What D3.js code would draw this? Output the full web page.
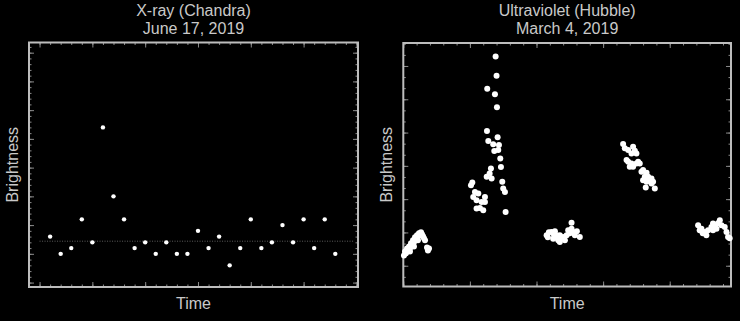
<!DOCTYPE html>
<html><head><meta charset="utf-8">
<script src="https://cdn.jsdelivr.net/npm/d3@7"></script>
<style>html,body{margin:0;background:#000;} svg{display:block;background:#000}</style>
</head><body><svg id="c" width="740" height="321"></svg>
<script>
// ---- X-ray (Chandra) light curve: time bin vs. counts ----
const xrayBin    = [1,2,3,4,5,6,7,8,9,10,11,12,13,14,15,16,17,18,19,20,21,22,23,24,25,26,27,28];
const xrayCounts = [8,5,6,11,7,27,15,11,6,7,5,7,5,5,9,6,8,3,6,11,6,7,10,7,11,6,11,5];
const xrayQuiescent = 7.2;           // dotted reference level
const xrayLineSpan = [0, 29.7];      // time extent of the dotted level

// ---- Ultraviolet (Hubble) light curve: time (tick units) vs. brightness ----
const uvTime = [
  0.05,0.13,0.2,0.28,0.35,0.43,0.5,0.58,0.65,0.73,0.8,0.88,0.95,1.03,1.1,1.18,1.25,1.33,1.4,1.48,1.55,1.63,1.78,1.93,1.85,0.5,0.8,1.1,
  6.93,7.0,6.3,6.88,7.03,6.28,7.08,6.38,6.75,7.18,6.83,7.13,7.28,6.58,7.33,6.48,6.26,7.43,5.18,5.08,7.5,7.63,5.38,5.63,5.25,6.13,5.5,5.88,6.13,5.75,5.5,6.0,7.68,6.63,
  10.76,10.93,11.13,11.25,11.38,11.51,11.63,11.75,11.75,11.88,12.0,12.13,12.26,12.38,12.5,12.63,12.63,12.75,12.88,13.03,13.25,10.85,11.3,
  16.5,16.63,16.88,17.25,17.38,17.5,17.13,16.76,16.88,17.13,17.0,17.25,17.5,17.63,17.75,17.88,18.0,18.26,18.13,18.38,18.5,18.63,18.63,18.26,18.2,18.88,18.75,18.0,
  22.13,22.25,22.38,22.63,22.75,22.88,23.13,23.25,23.25,23.38,23.51,23.76,23.88,24.13,24.26,24.38,24.5,22.48,23.63
];
const uvFlux = [
  0.93,1.29,1.11,1.56,1.38,1.74,1.56,2.02,1.84,2.29,2.11,2.56,2.38,2.74,2.65,2.92,2.74,3.01,2.83,2.65,2.47,2.29,1.65,1.56,1.38,1.29,1.74,2.29,
  18.86,17.11,15.94,15.46,14.28,12.14,11.57,11.24,10.94,10.88,10.33,10.42,9.67,8.77,8.89,8.32,8.01,7.56,7.5,7.26,6.96,6.65,6.65,6.51,6.2,6.2,5.9,5.75,5.75,5.21,5.15,5.0,4.85,7.87,
  2.74,3.01,3.04,2.44,3.1,2.74,2.29,2.74,2.13,2.47,2.59,2.29,2.74,3.19,2.92,3.87,3.34,3.04,2.74,3.1,2.59,2.56,2.83,
  10.97,10.58,10.42,10.72,10.36,10.12,10.12,9.52,9.37,9.22,8.91,8.91,9.22,9.37,9.22,8.46,8.62,8.37,8.01,8.01,7.71,7.86,7.41,7.56,7.05,6.96,7.56,7.71,
  3.64,3.19,3.34,3.04,2.74,3.19,3.49,3.8,3.19,3.64,3.34,4.1,3.64,3.49,3.04,2.59,2.47,2.92,3.82
];

const panelTitles = ["X-ray (Chandra)", "Ultraviolet (Hubble)"];
const panelDates  = ["June 17, 2019", "March 4, 2019"];
const xLabel = "Time";
const yLabel = "Brightness";

const svg = d3.select("#c");
const textColor = "#c9c9c9";
const font = "'Liberation Sans', Arial, Helvetica, sans-serif";

function panel(cfg) {
  const x = d3.scaleLinear().domain(cfg.xDomain).range([cfg.left, cfg.right]);
  const y = d3.scaleLinear().domain(cfg.yDomain).range([cfg.bottom, cfg.top]);
  const g = svg.append("g");

  [{vals: cfg.xMinor, len: 2.5}, {vals: cfg.xMajor, len: 5}].forEach(t => {
    g.append("g").attr("transform", `translate(0,${cfg.bottom})`)
      .call(d3.axisBottom(x).tickValues(t.vals).tickSize(-t.len).tickFormat(""));
    g.append("g").attr("transform", `translate(0,${cfg.top})`)
      .call(d3.axisTop(x).tickValues(t.vals).tickSize(-t.len).tickFormat(""));
  });
  [{vals: cfg.yMinor, len: 2.5}, {vals: cfg.yMajor, len: 5}].forEach(t => {
    g.append("g").attr("transform", `translate(${cfg.left},0)`)
      .call(d3.axisLeft(y).tickValues(t.vals).tickSize(-t.len).tickFormat(""));
    g.append("g").attr("transform", `translate(${cfg.right},0)`)
      .call(d3.axisRight(y).tickValues(t.vals).tickSize(-t.len).tickFormat(""));
  });
  g.selectAll(".domain").remove();
  g.selectAll(".tick line").attr("stroke", "#8a8a8a").attr("stroke-width", 1);

  g.append("rect")
    .attr("x", cfg.left).attr("y", cfg.top)
    .attr("width", cfg.right - cfg.left).attr("height", cfg.bottom - cfg.top)
    .attr("fill", "none").attr("stroke", "#bdbdbd").attr("stroke-width", 2);

  const cx = (cfg.left + cfg.right) / 2;
  const txt = (x0, y0, s) => g.append("text").attr("x", x0).attr("y", y0)
    .attr("text-anchor", "middle").attr("fill", textColor)
    .attr("font-family", font).attr("font-size", 16).text(s);
  txt(cx, 15.5, cfg.title);
  txt(cx, 34, cfg.date);
  txt(cx, 309, xLabel);
  g.append("text")
    .attr("transform", `translate(${cfg.left - 11},${(cfg.top + cfg.bottom) / 2}) rotate(-90)`)
    .attr("text-anchor", "middle")
    .attr("fill", textColor).attr("font-family", font).attr("font-size", 16).text(yLabel);

  return {g, x, y};
}

// Left: X-ray
const L = panel({
  left: 29, right: 358, top: 42.5, bottom: 287,
  xDomain: [-1, 30.15], yDomain: [-0.77, 41.77],
  xMinor: d3.range(0, 31, 1), xMajor: d3.range(0, 31, 5),
  yMinor: d3.range(0, 42, 1), yMajor: d3.range(0, 42, 5),
  title: panelTitles[0], date: panelDates[0]
});
L.g.append("line")
  .attr("x1", L.x(xrayLineSpan[0])).attr("x2", L.x(xrayLineSpan[1]))
  .attr("y1", L.y(xrayQuiescent)).attr("y2", L.y(xrayQuiescent))
  .attr("stroke", "#5e5e5e").attr("stroke-width", 1).attr("stroke-dasharray", "1,1.5");
L.g.selectAll("circle.pt").data(xrayBin).join("circle")
  .attr("class", "pt")
  .attr("cx", (d) => L.x(d)).attr("cy", (d, i) => L.y(xrayCounts[i]))
  .attr("r", 2.2).attr("fill", "#fff");

// Right: UV
const R = panel({
  left: 403.3, right: 731, top: 43, bottom: 286.5,
  xDomain: [0, 24.6], yDomain: [-1.87, 20.07],
  xMinor: d3.range(0, 25, 1), xMajor: d3.range(0, 25, 5),
  yMinor: d3.range(-1, 21, 1), yMajor: d3.range(0, 21, 3),
  title: panelTitles[1], date: panelDates[1]
});
R.g.selectAll("circle.pt").data(uvTime).join("circle")
  .attr("class", "pt")
  .attr("cx", (d) => R.x(d)).attr("cy", (d, i) => R.y(uvFlux[i]))
  .attr("r", 3).attr("fill", "#fff");
</script>
</body></html>
